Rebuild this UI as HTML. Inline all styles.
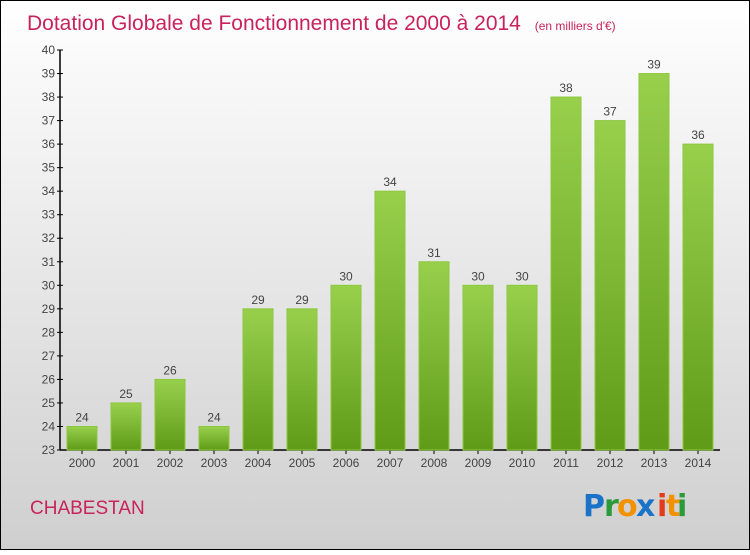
<!DOCTYPE html>
<html><head><meta charset="utf-8"><style>
body{margin:0;width:750px;height:550px;overflow:hidden;font-family:"Liberation Sans",sans-serif}
</style></head><body>
<svg width="750" height="550" xmlns="http://www.w3.org/2000/svg">
<defs>
<linearGradient id="bg" x1="0" y1="0" x2="0" y2="1"><stop offset="0" stop-color="#ffffff"/><stop offset="1" stop-color="#cfcfcf"/></linearGradient>
<linearGradient id="bar" x1="0" y1="0" x2="0" y2="1"><stop offset="0" stop-color="#98d04c"/><stop offset="1" stop-color="#5f9b17"/></linearGradient>
</defs>
<rect x="0.5" y="0.5" width="749" height="549" fill="url(#bg)" stroke="#000"/>
<text x="27" y="30" font-size="21" fill="#c8235a">Dotation Globale de Fonctionnement de 2000 à 2014 <tspan font-size="12" dx="8">(en milliers d'€)</tspan></text>
<g id="axes"></g>
<g id="bars"></g>
<text x="30" y="514" font-size="19" fill="#c8235a">CHABESTAN</text>
<g font-size="30" font-family="'DejaVu Sans',sans-serif" font-weight="bold">
<text x="583" y="516" fill="#1a73c9">P</text><text x="604" y="516" fill="#2a9a3a">r</text><text x="617" y="516" fill="#f39200">o</text><text x="636" y="516" fill="#1a73c9">x</text><text x="657" y="516" fill="#e53a1a">i</text><text x="666" y="516" fill="#f39200">t</text><text x="677" y="516" fill="#2a9a3a">i</text>
</g>
</svg>
<script>
const years=["2000","2001","2002","2003","2004","2005","2006","2007","2008","2009","2010","2011","2012","2013","2014"];
const values=[24,25,26,24,29,29,30,34,31,30,30,38,37,39,36];
const yMin=23,yMax=40;
const NS="http://www.w3.org/2000/svg";
const y=v=>450-(v-yMin)*(400/(yMax-yMin));
const x=i=>82+i*44;
function mk(t,a,p){const e=document.createElementNS(NS,t);for(const k in a)e.setAttribute(k,a[k]);p.appendChild(e);return e;}
const ax=document.getElementById('axes'),bg=document.getElementById('bars');
const yl=mk('line',{x1:60,y1:50,x2:60,y2:450,stroke:'#000','stroke-width':1.5},ax);


const xl=mk('line',{x1:60,y1:450,x2:720,y2:450,stroke:'#000','stroke-width':1.5},ax);


for(let v=yMin;v<=yMax;v++){
  mk('line',{x1:57,y1:y(v),x2:63,y2:y(v),stroke:'#000'},ax);
  const t=mk('text',{x:55,y:y(v)+4,'font-size':12,fill:'#444','text-anchor':'end'},ax);t.textContent=v;
  
  
}
years.forEach((yr,i)=>{
  mk('line',{x1:x(i),y1:450,x2:x(i),y2:454,stroke:'#000'},ax);
  const t=mk('text',{x:x(i),y:467,'font-size':12,fill:'#444','text-anchor':'middle'},ax);t.textContent=yr;
  
  
  const r=mk('rect',{x:x(i)-15,y:y(values[i]),width:30,height:450-y(values[i]),fill:'url(#bar)',stroke:'#8cc83f','stroke-width':1},bg);
  
  
  const l=mk('text',{x:x(i),y:y(values[i])-5,'font-size':12,fill:'#444','text-anchor':'middle'},bg);l.textContent=values[i];
  
  
});
</script>
</body></html>
